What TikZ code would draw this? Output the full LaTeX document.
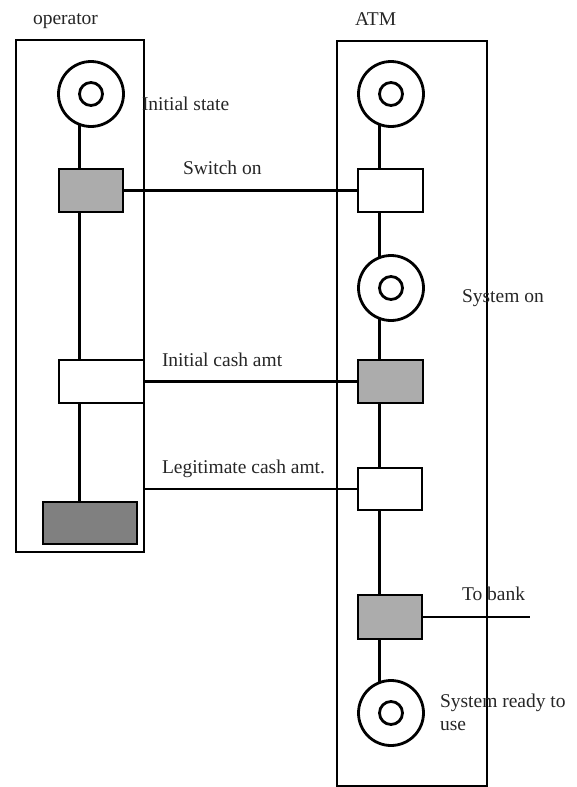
\documentclass[tikz,border=0pt]{standalone}
\usepackage{fontspec}
\setmainfont{Liberation Serif}
\usetikzlibrary{calc}
\definecolor{transgray}{RGB}{172,172,172}
\definecolor{transdark}{RGB}{128,128,128}

\begin{document}
\begin{tikzpicture}[x=1pt, y=-1pt, line width=2.8pt,
          every node/.style={inner sep=0pt, outer sep=0pt},
          lane/.style={draw, rectangle},
          place/.style={draw, circle, minimum size=65pt,
            path picture={\draw[line width=2.8pt] (path picture bounding box.center) circle (11.5pt);}},
          trans/.style={draw, rectangle, minimum height=43pt},
          lbl/.style={font=\fontsize{19.5}{23}\selectfont, text=black!85, anchor=base west}
        ]
          \useasboundingbox (0,0) rectangle (577,787);

          % Bahnen
          \node[lane, minimum width=128pt, minimum height=512pt] (opframe) at (80,296) {};
          \node[lane, minimum width=150pt, minimum height=745pt] (atmframe) at (412,413.5) {};
          \node[lbl] (optxt) at (33,24) {operator};
          \node[lbl] (atmtxt) at (355,25) {ATM};

          % Stellen
          \node[place] (op0) at (91,94) {};
          \node[place] (ap1) at (391,94) {};
          \node[place] (ap2) at (391,288) {};
          \node[place] (ap3) at (391,713) {};

          % Transitionen
          \node[trans, fill=transgray, minimum width=64pt] (o1) at (91,190.5) {};
          \node[trans, fill=white, minimum width=85pt] (o2) at (101.5,381.5) {};
          \node[trans, fill=transdark, minimum width=94pt, minimum height=42pt] (o3) at (90,523) {};
          \node[trans, fill=white, minimum width=65pt] (a1) at (390.5,190.5) {};
          \node[trans, fill=transgray, minimum width=65pt] (a2) at (390.5,381.5) {};
          \node[trans, fill=white, minimum width=64pt, minimum height=42pt] (a3) at (390,489) {};
          \node[trans, fill=transgray, minimum width=64pt, minimum height=44pt] (a4) at (390,617) {};

          % Kanten operator
          \coordinate (opx) at (op0.-110);
          \draw (op0.-110) -- (opx |- o1.north);
          \draw (opx |- o1.south) -- (opx |- o2.north);
          \draw (opx |- o2.south) -- (opx |- o3.north);

          % Kanten ATM
          \coordinate (atmx) at (ap1.-110);
          \draw (ap1.-110) -- (atmx |- a1.north);
          \draw (atmx |- a1.south) -- (ap2.110);
          \draw (ap2.-110) -- (atmx |- a2.north);
          \draw (atmx |- a2.south) -- (atmx |- a3.north);
          \draw (atmx |- a3.south) -- (atmx |- a4.north);
          \draw (atmx |- a4.south) -- (ap3.110);

          % Nachrichten
          \coordinate (bank) at (530,617);
          \draw (o1.east) -- (a1.west);
          \draw (o2.east) -- (a2.west);
          \draw (a3.west) -- (a3.west -| opframe.east);
          \draw (a4.east) -- (bank);

          % Beschriftungen
          \node[lbl] (inittxt) at (142,110) {Initial state};
          \node[lbl] (switchtxt) at (183,174) {Switch on};
          \node[lbl] (sysontxt) at (462,302) {System on};
          \node[lbl] (cashtxt) at (162,366) {Initial cash amt};
          \node[lbl] (legtxt) at (162,473) {Legitimate cash amt.};
          \node[lbl] (banktxt) at (462,600) {To bank};
          \node[lbl] (readytxt) at (440,707) {System ready to};
          \node[lbl] (usetxt) at (440,730) {use};
        \end{tikzpicture}
\end{document}
